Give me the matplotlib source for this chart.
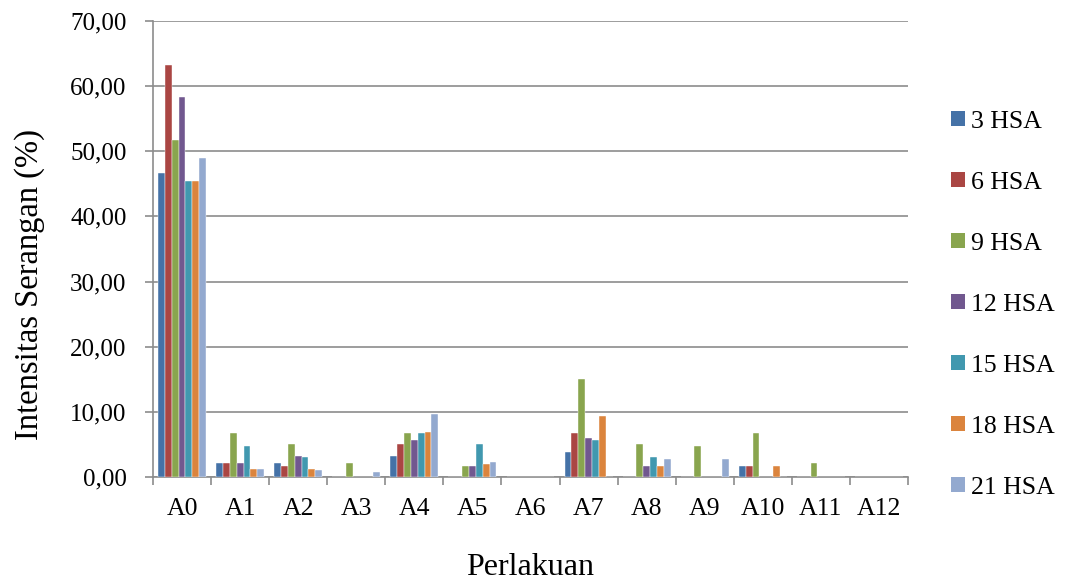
import numpy as np
from matplotlib import pyplot as plt
from matplotlib.patches import Patch

categories = ['A0', 'A1', 'A2', 'A3', 'A4', 'A5', 'A6',
              'A7', 'A8', 'A9', 'A10', 'A11', 'A12']
series_names = ['3 HSA', '6 HSA', '9 HSA', '12 HSA', '15 HSA', '18 HSA', '21 HSA']

hsa3 = [46.7, 2.2, 2.2, 0, 3.3, 0, 0, 3.9, 0, 0, 1.7, 0, 0]
hsa6 = [63.3, 2.2, 1.7, 0, 5.0, 0, 0, 6.7, 0, 0, 1.7, 0, 0]
hsa9 = [51.7, 6.7, 5.0, 2.2, 6.7, 1.7, 0, 15.0, 5.0, 4.7, 6.7, 2.2, 0]
hsa12 = [58.3, 2.2, 3.3, 0, 5.7, 1.7, 0, 6.0, 1.7, 0, 0, 0, 0]
hsa15 = [45.5, 4.7, 3.0, 0, 6.7, 5.0, 0, 5.7, 3.0, 0, 0, 0, 0]
hsa18 = [45.5, 1.3, 1.3, 0, 6.9, 2.0, 0, 9.4, 1.7, 0, 1.7, 0, 0]
hsa21 = [48.9, 1.3, 1.1, 0.8, 9.7, 2.3, 0, 0, 2.7, 2.7, 0, 0, 0]

series = [hsa3, hsa6, hsa9, hsa12, hsa15, hsa18, hsa21]
colors = ['#4572A7', '#AA4643', '#89A54E', '#71588F', '#4198AF', '#DB843D', '#93A9CF']

plt.rcParams['font.family'] = ['Liberation Serif', 'DejaVu Serif']

fig = plt.figure(figsize=[10.69, 5.85], dpi=100)
ax = fig.add_axes([0.1431, 0.1846, 0.7063, 0.7795])

x = np.arange(len(categories))
w = 0.118
for i, (vals, col) in enumerate(zip(series, colors)):
    ax.bar(x + (i - 3) * w, vals, width=w, color=col,
           edgecolor='white', linewidth=0.3, zorder=3)

# y axis: 0,00 .. 70,00 with comma decimals
yt = np.arange(0, 71, 10)
ax.set_xlim(-0.5, len(categories) - 0.5)
ax.set_ylim(0, 70)
ax.set_yticks(yt)
ax.set_yticklabels([('%.2f' % v).replace('.', ',') for v in yt])
ax.yaxis.grid(True, color='#8C8C8C', linewidth=1.2, zorder=0)

ax.set_xticks(x)
ax.set_xticklabels(categories)
ax.set_xticks(np.arange(-0.5, len(categories)), minor=True)
ax.tick_params(axis='x', which='major', length=0, labelsize=18.5, pad=15)
ax.tick_params(axis='x', which='minor', length=6, color='#8C8C8C', width=1.2)
ax.tick_params(axis='y', length=6, color='#8C8C8C', width=1.2, labelsize=18, pad=13)

for s in ['top', 'right']:
    ax.spines[s].set_visible(False)
for s in ['left', 'bottom']:
    ax.spines[s].set_color('#8C8C8C')
    ax.spines[s].set_linewidth(1.2)

ax.set_ylabel('Intensitas Serangan (%)', fontsize=23.5)
ax.yaxis.set_label_coords(-0.143, 0.423)
ax.set_xlabel('Perlakuan', fontsize=23, labelpad=24)

handles = [Patch(facecolor=c, edgecolor='none') for c in colors]
fig.legend(handles, series_names, loc='upper left', bbox_to_anchor=(0.8896, 0.811),
           frameon=False, fontsize=18.5, handlelength=0.53, handleheight=0.53,
           handletextpad=0.23, labelspacing=1.52, borderaxespad=0, borderpad=0)

plt.savefig('out.png', format='png')
